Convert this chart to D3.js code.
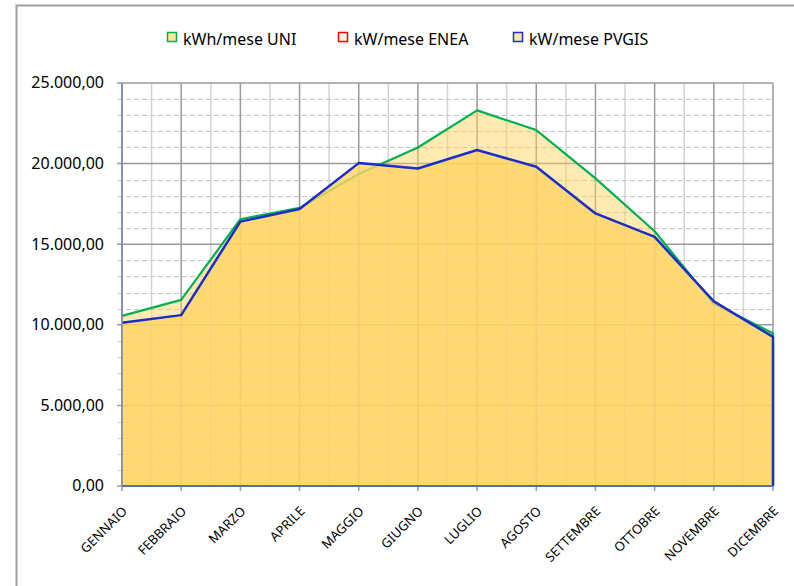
<!DOCTYPE html>
<html>
<head>
<meta charset="utf-8">
<script src="https://cdn.jsdelivr.net/npm/d3@7"></script>
<style>
 body { margin: 0; background: #ffffff; }
 text { font-family: 'Noto Sans', 'Open Sans', sans-serif; fill: #000000; }
</style>
</head>
<body>
<svg id="chart" width="794" height="586"></svg>
<script>
// months on the x axis
var months = ['GENNAIO', 'FEBBRAIO', 'MARZO', 'APRILE', 'MAGGIO', 'GIUGNO',
 'LUGLIO', 'AGOSTO', 'SETTEMBRE', 'OTTOBRE', 'NOVEMBRE', 'DICEMBRE'];

// monthly production
var uniValues = [10550, 11550, 16550, 17250, 19350, 21000, 23300, 22080, 19080, 15800, 11300, 9480];
var eneaValues = [10130, 10600, 16400, 17180, 20030, 19700, 20840, 19800, 16910, 15450, 11450, 9250];
var pvgisValues = [10130, 10600, 16400, 17180, 20030, 19700, 20840, 19800, 16910, 15450, 11450, 9250];

// y axis ticks
var majorTicks = [0, 5000, 10000, 15000, 20000, 25000];
var minorTicks = d3.range(0, 25001, 1000);

var seriesNames = ['kWh/mese UNI', 'kW/mese ENEA', 'kW/mese PVGIS'];

// graphical parameters
var graphicAtt = {
 left: 122, right: 773, top: 83, bottom: 486,
 fontSize: 16, tickFontSize: 13
};

var svg = d3.select('#chart');

var itLocale = d3.formatLocale({decimal: ',', thousands: '.', grouping: [3], currency: ['', '€']});
var fmt = itLocale.format(',.2f');

var x = d3.scalePoint().domain(months).range([graphicAtt.left, graphicAtt.right]);
var y = d3.scaleLinear().domain([0, 25000]).range([graphicAtt.bottom, graphicAtt.top]);
var step = x.step();

// outer frame of chart (only top and left are inside the window)
svg.append('rect')
 .attr('x', 16.5).attr('y', 5.5)
 .attr('width', 820).attr('height', 620)
 .style('fill', 'none')
 .style('stroke', '#a0a0a0')
 .style('stroke-width', '2px');

/* draws grid of the plot area
 - minor vertical lines between months, major ones on months
 - dashed horizontal lines every 1000, solid every 5000 */
function drawGrid()
{
 var grid = svg.append('g').attr('class', 'grid');

 months.slice(0, -1).forEach(function(m){
  grid.append('line')
   .attr('x1', x(m) + step/2).attr('x2', x(m) + step/2)
   .attr('y1', graphicAtt.top).attr('y2', graphicAtt.bottom)
   .style('stroke', '#d4d4d4').style('stroke-width', '1.5px');
 });

 minorTicks.filter(function(v){ return v % 5000 != 0; }).forEach(function(v){
  grid.append('line')
   .attr('x1', graphicAtt.left - 4).attr('x2', graphicAtt.right)
   .attr('y1', Math.round(y(v)) + 0.5).attr('y2', Math.round(y(v)) + 0.5)
   .style('stroke', '#c4c4c4').style('stroke-width', '1px')
   .style('stroke-dasharray', '5,3');
 });

 months.forEach(function(m){
  grid.append('line')
   .attr('x1', x(m)).attr('x2', x(m))
   .attr('y1', graphicAtt.top).attr('y2', graphicAtt.bottom + 5)
   .style('stroke', '#9a9a9a').style('stroke-width', '1.5px');
 });

 majorTicks.forEach(function(v){
  grid.append('line')
   .attr('x1', graphicAtt.left - 5).attr('x2', graphicAtt.right)
   .attr('y1', y(v)).attr('y2', y(v))
   .style('stroke', '#9a9a9a').style('stroke-width', '1.5px');
 });
}

drawGrid();

var area = d3.area()
 .x(function(d, i){ return x(months[i]); })
 .y0(y(0))
 .y1(function(d){ return y(d); });

// series drawn in order, each area with its border line
var seriesList = [
 {values: uniValues, fill: 'rgba(255, 210, 90, 0.46)', stroke: '#00b050', width: '2.2px'},
 {values: eneaValues, fill: 'rgba(255, 236, 220, 0.25)', stroke: '#ff0000', width: '1.4px'},
 {values: pvgisValues, fill: 'rgba(253, 210, 90, 0.74)', stroke: '#1a2fc8', width: '2.5px'}
];

seriesList.forEach(function(s){
 var g = svg.append('g').attr('class', 'series');
 g.append('path')
  .attr('d', area(s.values))
  .style('fill', s.fill)
  .style('stroke', 'none');
 // border goes down the right edge like in the spreadsheet
 var pts = s.values.map(function(d, i){ return [x(months[i]), y(d)]; });
 pts.push([x(months[months.length - 1]), y(0)]);
 g.append('path')
  .attr('d', d3.line()(pts))
  .style('fill', 'none')
  .style('stroke', s.stroke)
  .style('stroke-width', s.width)
  .style('stroke-linejoin', 'round');
});

// axes lines
svg.append('line')
 .attr('x1', graphicAtt.left).attr('x2', graphicAtt.right)
 .attr('y1', y(0)).attr('y2', y(0))
 .style('stroke', '#5b6aa8').style('stroke-width', '2px');
svg.append('line')
 .attr('x1', graphicAtt.left).attr('x2', graphicAtt.left)
 .attr('y1', graphicAtt.top).attr('y2', y(0))
 .style('stroke', '#7a84b0').style('stroke-width', '1.5px');

// y tick labels
svg.append('g').selectAll('text')
 .data(majorTicks)
 .enter().append('text')
 .attr('x', 104)
 .attr('y', function(d){ return y(d); })
 .attr('dy', '0.34em')
 .attr('text-anchor', 'end')
 .attr('font-size', graphicAtt.fontSize)
 .text(function(d){ return fmt(d); });

// x tick labels, rotated
svg.append('g').selectAll('text')
 .data(months)
 .enter().append('text')
 .attr('transform', function(d){ return 'translate(' + (x(d) + 6) + ',512) rotate(-45)'; })
 .attr('text-anchor', 'end')
 .attr('font-size', graphicAtt.tickFontSize)
 .text(function(d){ return d; });

// legend
var legendItems = [
 {name: seriesNames[0], x: 167, fill: '#ffe699', stroke: '#00b050'},
 {name: seriesNames[1], x: 338, fill: '#fff2e6', stroke: '#ff0000'},
 {name: seriesNames[2], x: 513, fill: '#ffe699', stroke: '#1a2fc8'}
];
var legend = svg.append('g').attr('class', 'legend');
legendItems.forEach(function(it){
 legend.append('rect')
  .attr('x', it.x + 0.5).attr('y', 32.5)
  .attr('width', 9).attr('height', 9)
  .style('fill', it.fill)
  .style('stroke', it.stroke)
  .style('stroke-width', '1.5px');
 legend.append('text')
  .attr('x', it.x + 16)
  .attr('y', 45)
  .attr('font-size', graphicAtt.fontSize)
  .text(it.name);
});
</script>
</body>
</html>
